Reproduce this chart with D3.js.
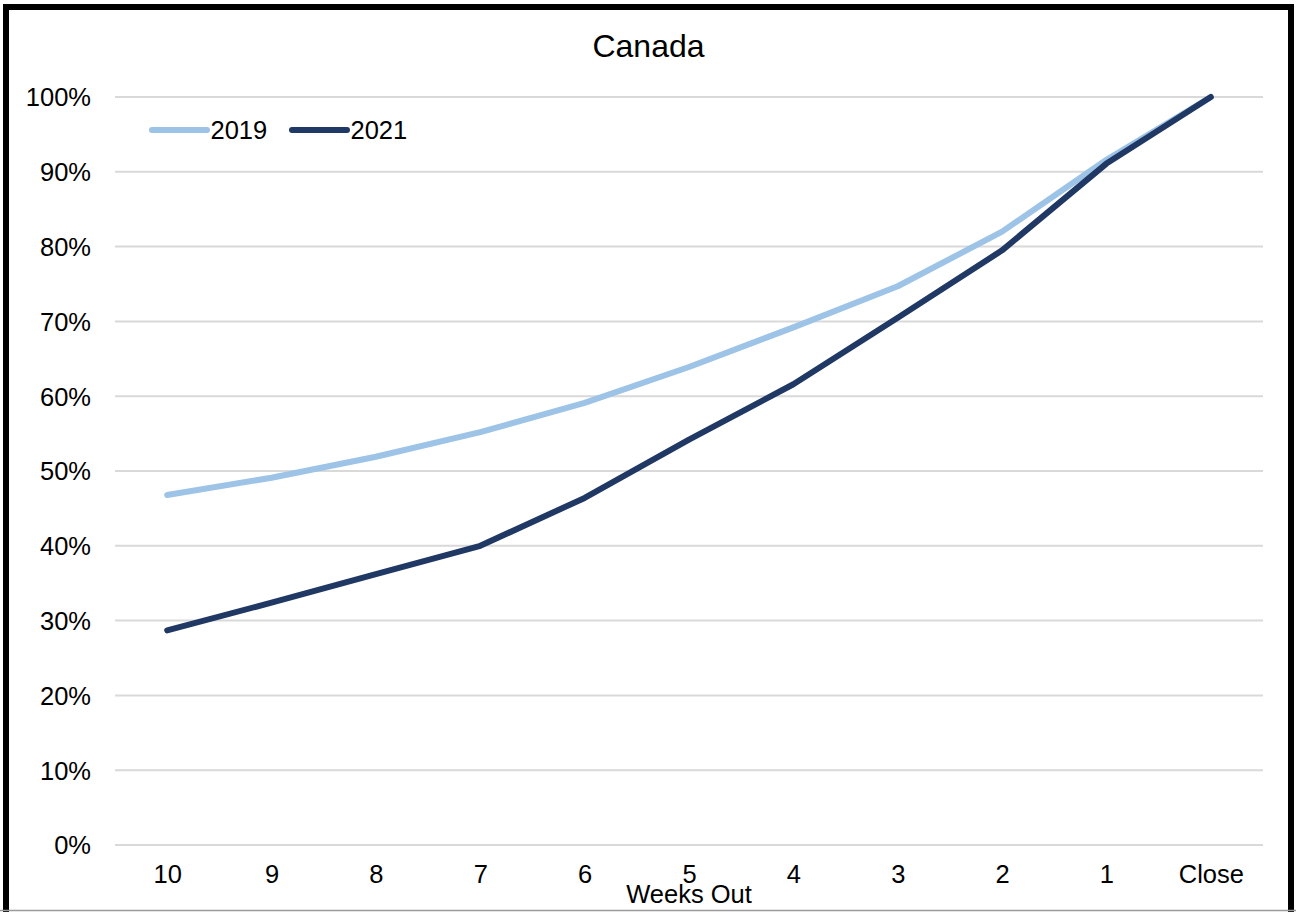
<!DOCTYPE html>
<html>
<head>
<meta charset="utf-8">
<script src="https://cdn.jsdelivr.net/npm/d3@7"></script>
<style>
  html, body { margin: 0; padding: 0; background: #fff; }
  svg { display: block; }
  text { font-family: "Liberation Sans", Arial, sans-serif; fill: #000; }
</style>
</head>
<body>
<div id="chart"></div>
<script>
// Weeks before close, left to right
const categories = ["10", "9", "8", "7", "6", "5", "4", "3", "2", "1", "Close"];
// Cumulative share of final total (%)
const values2019 = [46.8, 49.1, 51.9, 55.2, 59.1, 63.9, 69.2, 74.7, 82.0, 91.6, 100];
const values2021 = [28.7, 32.4, 36.2, 40.0, 46.4, 54.2, 61.6, 70.5, 79.5, 91.1, 100];
const yTicks = [0, 10, 20, 30, 40, 50, 60, 70, 80, 90, 100];

const series = [
  { name: "2019", values: values2019, color: "#9DC3E6" },
  { name: "2021", values: values2021, color: "#203864" }
];

const W = 1296, H = 912;
const plot = { left: 115, right: 1263, top: 97, bottom: 845 };
const FONT = 25.5;

const svg = d3.select("#chart").append("svg")
  .attr("width", W).attr("height", H);

svg.append("rect").attr("width", W).attr("height", H).attr("fill", "#fff");

const x = d3.scalePoint()
  .domain(categories)
  .range([plot.left, plot.right])
  .padding(0.5);

const y = d3.scaleLinear()
  .domain([0, 100])
  .range([plot.bottom, plot.top]);

// Horizontal gridlines
svg.append("g")
  .selectAll("line")
  .data(yTicks)
  .join("line")
  .attr("x1", plot.left).attr("x2", plot.right)
  .attr("y1", d => y(d)).attr("y2", d => y(d))
  .attr("stroke", "#D9D9D9").attr("stroke-width", 2);

// Y axis labels
const yAxis = d3.axisLeft(y)
  .tickValues(yTicks)
  .tickFormat(d => d + "%")
  .tickSize(0)
  .tickPadding(0);
const gy = svg.append("g")
  .attr("transform", `translate(${plot.left - 24},0)`)
  .call(yAxis);
gy.select(".domain").remove();
gy.selectAll("text")
  .attr("font-size", FONT)
  .attr("font-family", "Liberation Sans, Arial, sans-serif")
  .attr("fill", "#000")
  .attr("dy", "0.35em");

// X axis labels
const xAxis = d3.axisBottom(x).tickSize(0).tickPadding(0);
const gx = svg.append("g")
  .attr("transform", `translate(0,${plot.bottom})`)
  .call(xAxis);
gx.select(".domain").remove();
gx.selectAll("text")
  .attr("font-size", FONT)
  .attr("font-family", "Liberation Sans, Arial, sans-serif")
  .attr("fill", "#000")
  .attr("y", 38)
  .attr("dy", 0);

// Axis title
svg.append("text")
  .attr("x", 689).attr("y", 903)
  .attr("text-anchor", "middle")
  .attr("font-size", FONT)
  .text("Weeks Out");

// Chart title
svg.append("text")
  .attr("x", 648.5).attr("y", 57)
  .attr("text-anchor", "middle")
  .attr("font-size", 32)
  .text("Canada");

// Series lines
const line = d3.line()
  .x((d, i) => x(categories[i]))
  .y(d => y(d));

svg.append("g")
  .selectAll("path")
  .data(series)
  .join("path")
  .attr("d", d => line(d.values))
  .attr("fill", "none")
  .attr("stroke", d => d.color)
  .attr("stroke-width", 6)
  .attr("stroke-linecap", "round")
  .attr("stroke-linejoin", "round");

// Legend
const legendX = [152, 292];
const legend = svg.append("g")
  .selectAll("g")
  .data(series)
  .join("g")
  .attr("transform", (d, i) => `translate(${legendX[i]},130)`);
legend.append("line")
  .attr("x1", 0).attr("x2", 55)
  .attr("y1", 0).attr("y2", 0)
  .attr("stroke", d => d.color)
  .attr("stroke-width", 6)
  .attr("stroke-linecap", "round");
legend.append("text")
  .attr("x", 58.5).attr("y", 0)
  .attr("dy", "0.35em")
  .attr("font-size", FONT)
  .text(d => d.name);

// Outer frame
svg.append("rect")
  .attr("x", 6).attr("y", 7)
  .attr("width", 1285).attr("height", 930)
  .attr("fill", "none")
  .attr("stroke", "#000")
  .attr("stroke-width", 6);
svg.append("line")
  .attr("x1", 0).attr("x2", W)
  .attr("y1", 910.5).attr("y2", 910.5)
  .attr("stroke", "#9a9a9a").attr("stroke-width", 1.5);
</script>
</body>
</html>
